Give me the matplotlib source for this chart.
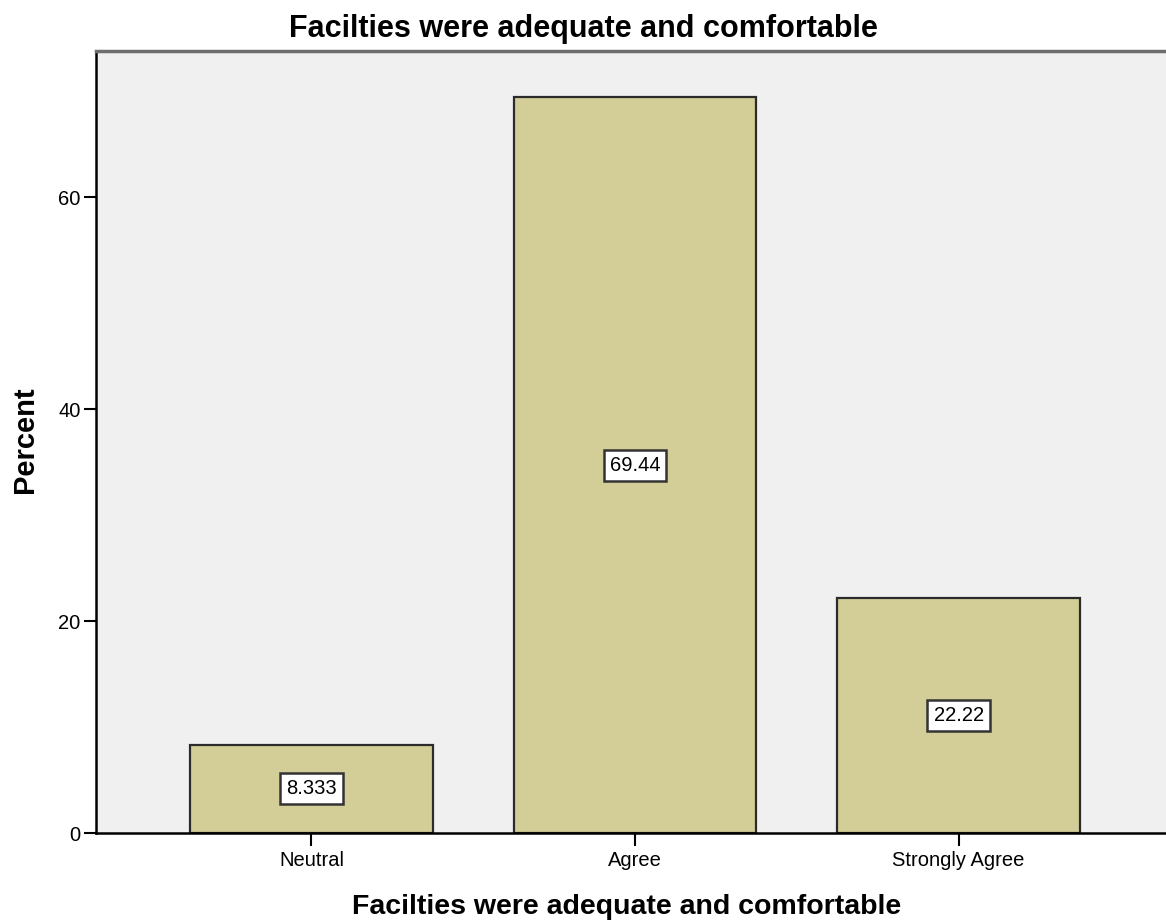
import matplotlib
matplotlib.use("Agg")
import matplotlib.pyplot as plt

plt.rcParams['font.family'] = ['Liberation Sans', 'DejaVu Sans']

# data
categories = ["Neutral", "Agree", "Strongly Agree"]
percents = [8.333, 69.44, 22.22]
labels = ["8.333", "69.44", "22.22"]
yticks = [0, 20, 40, 60]
title = "Facilties were adequate and comfortable"

fig = plt.figure(figsize=(11.66, 9.22), dpi=100)
ax = fig.add_axes([96 / 1166, 89 / 922, 1 - 96 / 1166, (833 - 51) / 922])
ax.set_facecolor("#f0f0f0")

x = list(range(len(categories)))
ax.bar(x, percents, width=0.75, color="#d3ce97", edgecolor="#2b2b2b", linewidth=1.6, zorder=2)

# value boxes in the middle of each bar
for xi, val, lab in zip(x, percents, labels):
    ax.text(xi, val / 2, lab, ha="center", va="center", fontsize=14.5, zorder=3,
            bbox=dict(boxstyle="square,pad=0.3", facecolor="white", edgecolor="#333333", linewidth=1.8))

ax.set_xlim(-0.666, 2.641)
ax.set_ylim(0, 73.8)
ax.set_xticks(x)
ax.set_xticklabels(categories)
ax.set_yticks(yticks)
ax.tick_params(axis="both", length=9, width=1.5, labelsize=14.5, color="black")
ax.tick_params(axis="x", pad=4)
ax.tick_params(axis="y", pad=2)

ax.spines["right"].set_visible(False)
ax.spines["top"].set_color("#6e6e6e")
ax.spines["top"].set_linewidth(2.5)
ax.spines["left"].set_linewidth(1.8)
ax.spines["bottom"].set_linewidth(1.8)

fig.text(583 / 1166, 1 - 37 / 922, title, ha="center", va="baseline", fontsize=22, fontweight="bold")
fig.text(627 / 1166, 1 - 914 / 922, title, ha="center", va="baseline", fontsize=20.5, fontweight="bold")
fig.text(25 / 1166, 1 - 440 / 922, "Percent", ha="center", va="center", rotation=90,
         fontsize=21, fontweight="bold")

fig.savefig("out.png", dpi=100)
